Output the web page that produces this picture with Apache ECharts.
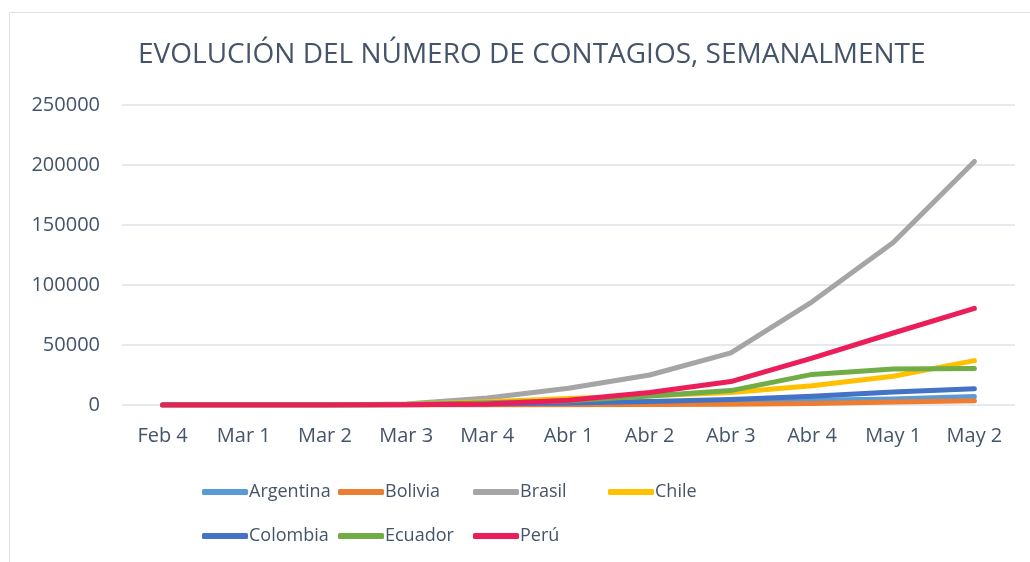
<!DOCTYPE html>
<html>
<head>
<meta charset="utf-8">
<script src="https://cdn.jsdelivr.net/npm/echarts@6/dist/echarts.min.js"></script>
<style>
  html, body { margin: 0; padding: 0; background: #fff; }
  #chart { width: 1030px; height: 562px; }
</style>
</head>
<body>
<div id="chart"></div>
<script>
let semanas = ['Feb 4', 'Mar 1', 'Mar 2', 'Mar 3', 'Mar 4', 'Abr 1', 'Abr 2', 'Abr 3', 'Abr 4', 'May 1', 'May 2'];

let argentina = [0, 2, 45, 300, 900, 1600, 2600, 3000, 3900, 5000, 7100];
let bolivia = [0, 0, 0, 20, 100, 150, 400, 600, 1200, 2400, 3600];
let brasil = [0, 2, 20, 900, 5800, 14000, 25000, 43500, 86000, 135500, 203000];
let chile = [0, 0, 20, 500, 2700, 5500, 7800, 10500, 16000, 24000, 37000];
let colombia = [0, 0, 0, 200, 900, 1700, 3000, 4500, 7300, 10800, 13600];
let ecuador = [0, 0, 0, 500, 1900, 3600, 7500, 12000, 25500, 30000, 30500];
let peru = [0, 0, 0, 200, 900, 4000, 10500, 19500, 39000, 60000, 80500];

let nombres = ['Argentina', 'Bolivia', 'Brasil', 'Chile', 'Colombia', 'Ecuador', 'Perú'];
let valores = [argentina, bolivia, brasil, chile, colombia, ecuador, peru];
let colores = ['#5B9BD5', '#ED7D31', '#A5A5A5', '#FFC000', '#4472C4', '#70AD47', '#EB1E5A'];

let myChart = echarts.init(document.getElementById('chart'));

let texto = '#44546A';
let fuente = '"Open Sans", sans-serif';

let series = nombres.map(function (n, i) {
    return {
        name: n,
        type: 'line',
        data: valores[i],
        color: colores[i],
        symbol: 'none',
        lineStyle: { width: 5, cap: 'round', join: 'round' }
    };
});

// legend laid out as a 4-column grid, one legend per entry
let columnas = [197, 333, 468, 603];
let filas = [478, 522];
let leyendas = nombres.map(function (n, i) {
    return {
        data: [n],
        left: columnas[i % 4],
        top: filas[Math.floor(i / 4)],
        icon: 'roundRect',
        itemWidth: 46,
        itemHeight: 6,
        itemGap: 0,
        textStyle: {
            color: texto,
            fontFamily: fuente,
            fontSize: 18,
            padding: [0, 0, 0, -4]
        }
    };
});

let option = {
    animation: false,
    title: {
        text: 'EVOLUCIÓN DEL NÚMERO DE CONTAGIOS, SEMANALMENTE',
        left: 133,
        top: 36,
        textStyle: {
            color: texto,
            fontFamily: fuente,
            fontWeight: 'normal',
            fontSize: 28
        }
    },
    graphic: [{
        type: 'rect',
        shape: { x: 9.5, y: 12.5, width: 1100, height: 600 },
        style: { fill: 'none', stroke: '#DCE0E6', lineWidth: 1 },
        silent: true
    }],
    legend: leyendas,
    grid: {
        left: 122,
        right: 15,
        top: 105,
        bottom: 157
    },
    xAxis: {
        type: 'category',
        data: semanas,
        boundaryGap: true,
        axisLine: { show: false },
        axisTick: { show: false },
        axisLabel: {
            color: texto,
            fontFamily: fuente,
            fontSize: 20,
            margin: 21
        }
    },
    yAxis: {
        type: 'value',
        min: 0,
        max: 250000,
        interval: 50000,
        splitLine: { lineStyle: { color: '#DEE2E8', width: 1.5 } },
        axisLine: { show: false },
        axisTick: { show: false },
        axisLabel: {
            color: texto,
            fontFamily: fuente,
            fontSize: 20,
            margin: 22,
            formatter: function (v) { return String(v); }
        }
    },
    series: series
};

myChart.setOption(option);
</script>
</body>
</html>
